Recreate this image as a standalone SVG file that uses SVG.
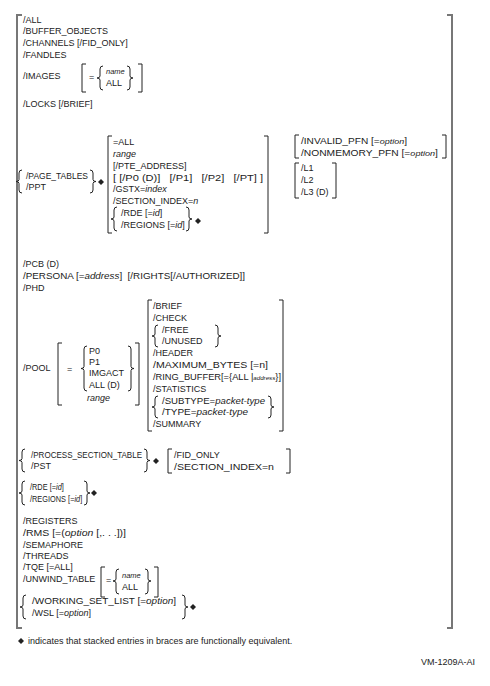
<svg xmlns="http://www.w3.org/2000/svg" width="490" height="686" viewBox="0 0 490 686">
<style>
.t{font-family:"Liberation Sans",Arial,sans-serif;font-size:9px;fill:#222}
.i{font-style:italic}
.sm{font-size:7.5px}
.br{fill:none;stroke:#222;stroke-width:1}
.ob{fill:none;stroke:#777;stroke-width:2}
.dm{fill:#222}
</style>
<defs>
<path id="dia" d="M0,-3 L3,0 L0,3 L-3,0Z"/>
</defs>
<rect width="490" height="686" fill="#fff"/>
<g id="outer">
<path class="ob" d="M22,15 H17 V628 H22"/>
<path class="ob" d="M447,15 H452 V628 H447"/>
</g>
<g id="simple-top" class="t">
<text x="23" y="23">/ALL</text>
<text x="23" y="34">/BUFFER_OBJECTS</text>
<text x="23" y="46">/CHANNELS [/FID_ONLY]</text>
<text x="23" y="58">/FANDLES</text>
</g>
<g id="images">
<text class="t" x="23" y="79">/IMAGES</text>
<path class="br" d="M86,64 H82 V92 H86"/>
<text class="t" x="89" y="80">=</text>
<path class="br" d="M103,66 Q100,66 100,69 V76 Q100,78 97,78 Q100,78 100,80 V87 Q100,90 103,90"/>
<text class="t i sm" x="106" y="74">name</text>
<text class="t" x="106" y="86">ALL</text>
<path class="br" d="M127,66 Q130,66 130,69 V76 Q130,78 133,78 Q130,78 130,80 V87 Q130,90 127,90"/>
<path class="br" d="M138,64 H142 V92 H138"/>
</g>
<g id="locks"><text class="t" x="23" y="107">/LOCKS [/BRIEF]</text></g>
<g id="page-tables">
<path class="br" d="M22,170 Q19,170 19,173 V179.5 Q19,181.5 16,181.5 Q19,181.5 19,183.5 V190 Q19,193 22,193"/>
<text class="t" x="26" y="179" textLength="62" lengthAdjust="spacingAndGlyphs">/PAGE_TABLES</text>
<text class="t" x="26" y="190">/PPT</text>
<path class="br" d="M90,170 Q93,170 93,173 V179.5 Q93,181.5 96,181.5 Q93,181.5 93,183.5 V190 Q93,193 90,193"/>
<use href="#dia" class="dm" x="101" y="182"/>
<path class="br" d="M112,136 H108 V233 H112"/>
<text class="t" x="113" y="145">=ALL</text>
<text class="t i" x="113" y="157">range</text>
<text class="t" x="113" y="169">[/PTE_ADDRESS]</text>
<text class="t" x="113" y="181" xml:space="preserve" textLength="150" lengthAdjust="spacingAndGlyphs">[ [/P0 (D)]   [/P1]   [/P2]   [/PT] ]</text>
<text class="t" x="113" y="192">/GSTX=<tspan class="i">index</tspan></text>
<text class="t" x="113" y="204">/SECTION_INDEX=<tspan class="i">n</tspan></text>
<path class="br" d="M117,207 Q114,207 114,210 V217 Q114,219 111,219 Q114,219 114,221 V228 Q114,231 117,231"/>
<text class="t" x="121" y="216">/RDE [=<tspan class="i">id</tspan>]</text>
<text class="t" x="121" y="228">/REGIONS [=<tspan class="i">id</tspan>]</text>
<path class="br" d="M186,207 Q189,207 189,210 V217 Q189,219 192,219 Q189,219 189,221 V228 Q189,231 186,231"/>
<use href="#dia" class="dm" x="198" y="221"/>
<path class="br" d="M264,136 H268 V233 H264"/>
<path class="br" d="M299,135 H295 V158 H299"/>
<text class="t" x="301" y="144" textLength="106" lengthAdjust="spacingAndGlyphs">/INVALID_PFN [=<tspan class="i" font-size="8">option</tspan>]</text>
<text class="t" x="301" y="156" textLength="137" lengthAdjust="spacingAndGlyphs">/NONMEMORY_PFN [=<tspan class="i" font-size="8">option</tspan>]</text>
<path class="br" d="M442,135 H446 V158 H442"/>
<path class="br" d="M299,163 H295 V198 H299"/>
<text class="t" x="301" y="171">/L1</text>
<text class="t" x="301" y="183">/L2</text>
<text class="t" x="301" y="195">/L3 (D)</text>
<path class="br" d="M332,163 H336 V198 H332"/>
</g>
<g id="pcb-phd" class="t">
<text x="23" y="267">/PCB (D)</text>
<text x="23" y="279" xml:space="preserve" textLength="222" lengthAdjust="spacingAndGlyphs">/PERSONA [=<tspan class="i">address</tspan>]  [/RIGHTS[/AUTHORIZED]]</text>
<text x="23" y="291">/PHD</text>
</g>
<g id="pool">
<text class="t" x="23" y="371">/POOL</text>
<path class="br" d="M62,343 H58 V405 H62"/>
<text class="t" x="67" y="372">=</text>
<path class="br" d="M87,346 Q84,346 84,349 V366.5 Q84,368.5 81,368.5 Q84,368.5 84,370.5 V388 Q84,391 87,391"/>
<text class="t" x="89" y="354">P0</text>
<text class="t" x="89" y="365">P1</text>
<text class="t" x="89" y="376">IMGACT</text>
<text class="t" x="89" y="388">ALL (D)</text>
<path class="br" d="M128,346 Q131,346 131,349 V366.5 Q131,368.5 134,368.5 Q131,368.5 131,370.5 V388 Q131,391 128,391"/>
<text class="t i" x="87" y="401">range</text>
<path class="br" d="M135,343 H139 V405 H135"/>
<path class="br" d="M152,300 H148 V431 H152"/>
<text class="t" x="153" y="309">/BRIEF</text>
<text class="t" x="153" y="321">/CHECK</text>
<path class="br" d="M158,325 Q155,325 155,328 V334 Q155,336 152,336 Q155,336 155,338 V344 Q155,347 158,347"/>
<text class="t" x="162" y="333">/FREE</text>
<text class="t" x="162" y="344">/UNUSED</text>
<path class="br" d="M215,325 Q218,325 218,328 V334 Q218,336 221,336 Q218,336 218,338 V344 Q218,347 215,347"/>
<text class="t" x="153" y="356">/HEADER</text>
<text class="t" x="153" y="368" textLength="115" lengthAdjust="spacingAndGlyphs">/MAXIMUM_BYTES [=n]</text>
<text class="t" x="153" y="380" textLength="128" lengthAdjust="spacingAndGlyphs">/RING_BUFFER[={ALL |<tspan class="i" font-size="6">address</tspan>}]</text>
<text class="t" x="153" y="392">/STATISTICS</text>
<path class="br" d="M158,396 Q155,396 155,399 V405 Q155,407 152,407 Q155,407 155,409 V415 Q155,418 158,418"/>
<text class="t" x="162" y="404" textLength="103" lengthAdjust="spacingAndGlyphs">/SUBTYPE=<tspan class="i">packet-type</tspan></text>
<text class="t" x="162" y="415" textLength="86" lengthAdjust="spacingAndGlyphs">/TYPE=<tspan class="i">packet-type</tspan></text>
<path class="br" d="M268,396 Q271,396 271,399 V405 Q271,407 274,407 Q271,407 271,409 V415 Q271,418 268,418"/>
<text class="t" x="153" y="427">/SUMMARY</text>
<path class="br" d="M279,300 H283 V431 H279"/>
</g>
<g id="process-section">
<path class="br" d="M25,449 Q22,449 22,452 V458.5 Q22,460.5 19,460.5 Q22,460.5 22,462.5 V469 Q22,472 25,472"/>
<text class="t" x="31" y="458" textLength="111" lengthAdjust="spacingAndGlyphs">/PROCESS_SECTION_TABLE</text>
<text class="t" x="31" y="469">/PST</text>
<path class="br" d="M144,449 Q147,449 147,452 V458.5 Q147,460.5 150,460.5 Q147,460.5 147,462.5 V469 Q147,472 144,472"/>
<use href="#dia" class="dm" x="156" y="461"/>
<path class="br" d="M172,449 H168 V473 H172"/>
<text class="t" x="174" y="458">/FID_ONLY</text>
<text class="t" x="174" y="470" textLength="100" lengthAdjust="spacingAndGlyphs">/SECTION_INDEX=n</text>
<path class="br" d="M286,449 H290 V473 H286"/>
</g>
<g id="rde-regions">
<path class="br" d="M25,481 Q22,481 22,484 V491 Q22,493 19,493 Q22,493 22,495 V502 Q22,505 25,505"/>
<text class="t" transform="translate(30,490) scale(0.82,1)">/RDE [=<tspan class="i">id</tspan>]</text>
<text class="t" transform="translate(30,502) scale(0.82,1)">/REGIONS [=<tspan class="i">id</tspan>]</text>
<path class="br" d="M84,481 Q87,481 87,484 V491 Q87,493 90,493 Q87,493 87,495 V502 Q87,505 84,505"/>
<use href="#dia" class="dm" x="94" y="493"/>
</g>
<g id="simple-bottom" class="t">
<text x="23" y="524">/REGISTERS</text>
<text x="23" y="536" textLength="103" lengthAdjust="spacingAndGlyphs">/RMS [=(<tspan class="i">option</tspan> [,. . .])]</text>
<text x="23" y="548">/SEMAPHORE</text>
<text x="23" y="559">/THREADS</text>
<text x="23" y="570">/TQE [=ALL]</text>
</g>
<g id="unwind">
<text class="t" x="23" y="582">/UNWIND_TABLE</text>
<path class="br" d="M105,567 H101 V597 H105"/>
<text class="t" x="106" y="583">=</text>
<path class="br" d="M119,569 Q116,569 116,572 V579 Q116,581 113,581 Q116,581 116,583 V591 Q116,594 119,594"/>
<text class="t i sm" x="122" y="578">name</text>
<text class="t" x="122" y="590">ALL</text>
<path class="br" d="M145,569 Q148,569 148,572 V579 Q148,581 151,581 Q148,581 148,583 V591 Q148,594 145,594"/>
<path class="br" d="M154,567 H158 V597 H154"/>
</g>
<g id="working-set">
<path class="br" d="M26,595 Q23,595 23,598 V605 Q23,607 20,607 Q23,607 23,609 V616 Q23,619 26,619"/>
<text class="t" x="32" y="604" textLength="144" lengthAdjust="spacingAndGlyphs">/WORKING_SET_LIST [=<tspan class="i">option</tspan>]</text>
<text class="t" x="32" y="616">/WSL [=<tspan class="i">option</tspan>]</text>
<path class="br" d="M182,595 Q185,595 185,598 V605 Q185,607 188,607 Q185,607 185,609 V616 Q185,619 182,619"/>
<use href="#dia" class="dm" x="193" y="607"/>
</g>
<g id="footnote">
<use href="#dia" class="dm" x="21" y="641"/>
<text class="t" x="28" y="644" font-size="8.4">indicates that stacked entries in braces are functionally equivalent.</text>
<text class="t" x="421" y="665" font-size="5.2">VM-1209A-AI</text>
</g>
</svg>
